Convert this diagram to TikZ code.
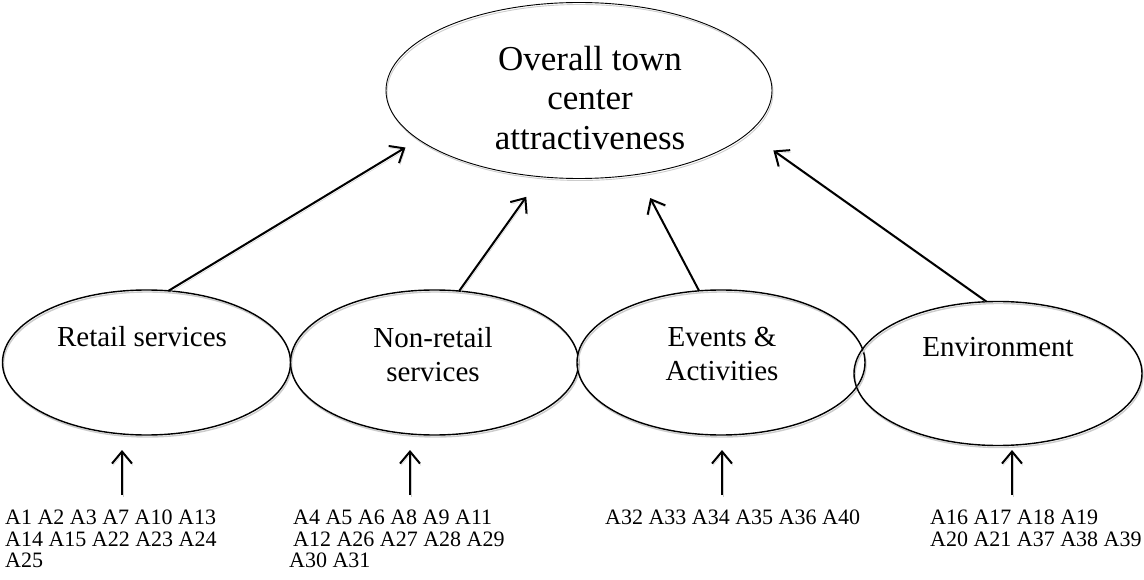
\documentclass[tikz,border=0pt]{standalone}
\usepackage{fontspec}
\setmainfont{Liberation Serif}
\usepackage{tikz}
\usetikzlibrary{shapes.geometric,arrows.meta}
\newcommand{\headfont}{\fontsize{35pt}{39.5pt}\selectfont}
\newcommand{\boxfont}{\fontsize{29pt}{34pt}\selectfont}
\newcommand{\listfont}{\fontsize{22pt}{21.5pt}\selectfont}

\begin{document}
\begin{tikzpicture}[x=1pt,y=-1pt,
    ghost/.style={preaction={draw=black!20,transform canvas={shift={(1pt,-2pt)}}}},
    factor/.style={ellipse,draw,line width=1.4pt,inner sep=0pt,outer sep=0pt,
      minimum width=288pt,minimum height=145pt,ghost},
    caption/.style={align=center,inner sep=0pt,font=\boxfont},
    items/.style={anchor=north west,align=left,inner sep=0pt,font=\listfont},
    link/.style={line width=2pt,-{Straight Barb[length=12pt,width=20pt]},ghost}]
  \useasboundingbox (0,0) rectangle (1144,580);

  \node[factor,line width=0.9pt,minimum width=386pt,minimum height=176pt] (overall) at (579,90.5) {};
  \node[caption,font=\headfont] (overall-t) at (590,97.7) {Overall town\\center\\attractiveness};

  \node[factor] (retail) at (146.5,362.5) {};
  \node[factor] (nonretail) at (434.5,362.5) {};
  \node[factor] (events) at (721,362.5) {};
  \node[factor,minimum height=144pt] (environ) at (998,373.5) {};

  \node[caption] (retail-t) at (142,337) {Retail services};
  \node[caption] (nonretail-t) at (433,354.5) {Non-retail\\services};
  \node[caption] (events-t) at (722,353.5) {Events \&\\Activities};
  \node[caption] (environ-t) at (998,347) {Environment};

  \draw[link,shorten >=15.5pt] (retail.73.3) -- (overall.197.4);
  \draw[link,shorten >=24.7pt] (nonretail.71.9) -- (overall.246.7);
  \draw[link,shorten >=26.8pt] (events.107.2) -- (overall.305.5);
  \draw[link,shorten >=30.7pt] (environ.99.2) -- (overall.346.2);

  \node[items] (retail-l) at (5,510) {A1 A2 A3 A7 A10 A13\\A14 A15 A22 A23 A24\\A25};
  \node[items] (nonretail-l) at (289,510) {\hspace*{4pt}A4 A5 A6 A8 A9 A11\\\hspace*{4pt}A12 A26 A27 A28 A29\\A30 A31};
  \node[items] (events-l) at (605,510) {A32 A33 A34 A35 A36 A40};
  \node[items] (environ-l) at (930,510) {A16 A17 A18 A19\\A20 A21 A37 A38 A39};

  \coordinate (retail-a) at (122,495);
  \coordinate (nonretail-a) at (410,495);
  \coordinate (events-a) at (722,495);
  \coordinate (environ-a) at (1012,495);
  \draw[link,shorten >=15pt] (retail-a) -- (retail-a |- retail.south);
  \draw[link,shorten >=15pt] (nonretail-a) -- (nonretail-a |- nonretail.south);
  \draw[link,shorten >=15pt] (events-a) -- (events-a |- events.south);
  \draw[link,shorten >=4.5pt] (environ-a) -- (environ-a |- environ.south);
\end{tikzpicture}
\end{document}
